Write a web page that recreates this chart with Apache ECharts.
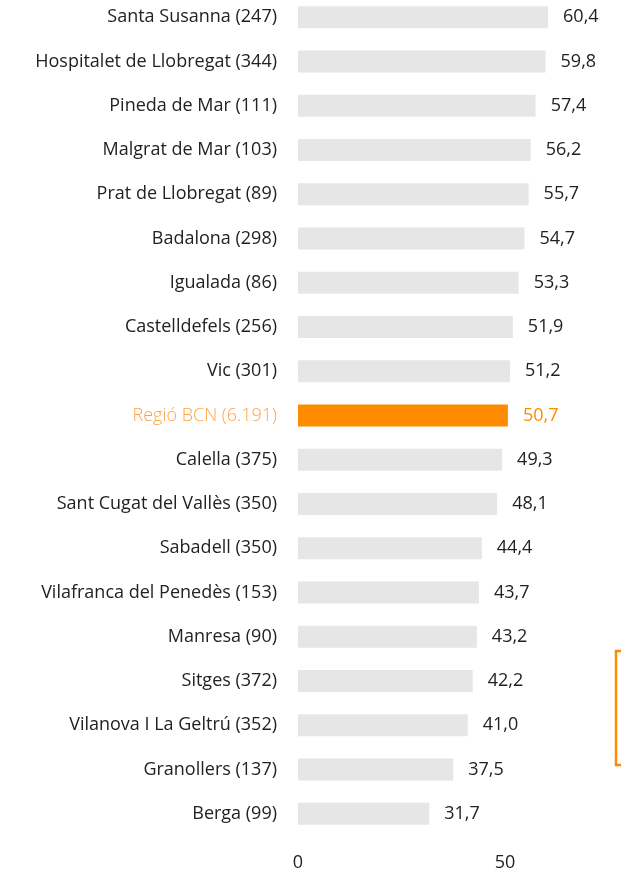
<!DOCTYPE html>
<html>
<head>
<meta charset="utf-8">
<script src="https://cdn.jsdelivr.net/npm/echarts@6/dist/echarts.min.js"></script>
<style>
  html, body { margin: 0; padding: 0; background: #fff; }
  #chart { width: 621px; height: 870px; }
</style>
</head>
<body>
<div id="chart"></div>
<script>
// Municipalities (sample size in brackets) and their values
const categories = [
  'Santa Susanna (247)',
  'Hospitalet de Llobregat (344)',
  'Pineda de Mar (111)',
  'Malgrat de Mar (103)',
  'Prat de Llobregat (89)',
  'Badalona (298)',
  'Igualada (86)',
  'Castelldefels (256)',
  'Vic (301)',
  'Regió BCN (6.191)',
  'Calella (375)',
  'Sant Cugat del Vallès (350)',
  'Sabadell (350)',
  'Vilafranca del Penedès (153)',
  'Manresa (90)',
  'Sitges (372)',
  'Vilanova I La Geltrú (352)',
  'Granollers (137)',
  'Berga (99)'
];
const values = [60.4, 59.8, 57.4, 56.2, 55.7, 54.7, 53.3, 51.9, 51.2, 50.7, 49.3, 48.1, 44.4, 43.7, 43.2, 42.2, 41.0, 37.5, 31.7];
const highlight = 'Regió BCN (6.191)';
const xTicks = [0, 50];
const xMax = 75;

const GREY = '#e6e6e6';
const ORANGE = '#ff8c00';
const FONT = '"Open Sans", "Noto Sans", sans-serif';
const FS = 18;

const fmt = v => v.toFixed(1).replace('.', ',');

const chart = echarts.init(document.getElementById('chart'), null, { renderer: 'canvas' });

chart.setOption({
  animation: false,
  grid: {
    left: 298, right: 621 - 298 - xMax * 4.14, top: -5, bottom: 34,
    containLabel: false, outerBoundsMode: 'none'
  },
  xAxis: {
    type: 'value',
    min: xTicks[0],
    max: xMax,
    interval: xTicks[1] - xTicks[0],
    axisLine: { show: false },
    axisTick: { show: false },
    splitLine: { show: false },
    axisLabel: {
      color: '#222', fontSize: FS, fontFamily: FONT, margin: 18,
      formatter: v => xTicks.indexOf(v) >= 0 ? String(v) : ''
    }
  },
  yAxis: {
    type: 'category',
    data: categories,
    inverse: true,
    axisLine: { show: false },
    axisTick: { show: false },
    axisLabel: {
      margin: 21,
      fontSize: FS,
      fontFamily: FONT,
      color: '#222',
      formatter: v => v === highlight ? '{hl|' + v + '}' : v,
      rich: {
        hl: { color: '#ffa447', fontSize: FS, fontFamily: FONT, fontWeight: 300 }
      }
    }
  },
  series: [{
    type: 'bar',
    barWidth: 22,
    data: categories.map((c, i) => ({
      value: values[i],
      itemStyle: { color: c === highlight ? ORANGE : GREY },
      label: c === highlight ? { color: ORANGE } : {}
    })),
    label: {
      show: true,
      position: 'right',
      distance: 15,
      fontSize: FS,
      fontFamily: FONT,
      color: '#222',
      formatter: p => fmt(p.value)
    }
  }],
  graphic: [{
    type: 'rect',
    shape: { x: 616, y: 651, width: 40, height: 114 },
    style: { fill: 'none', stroke: ORANGE, lineWidth: 2.5 }
  }]
});
</script>
</body>
</html>
